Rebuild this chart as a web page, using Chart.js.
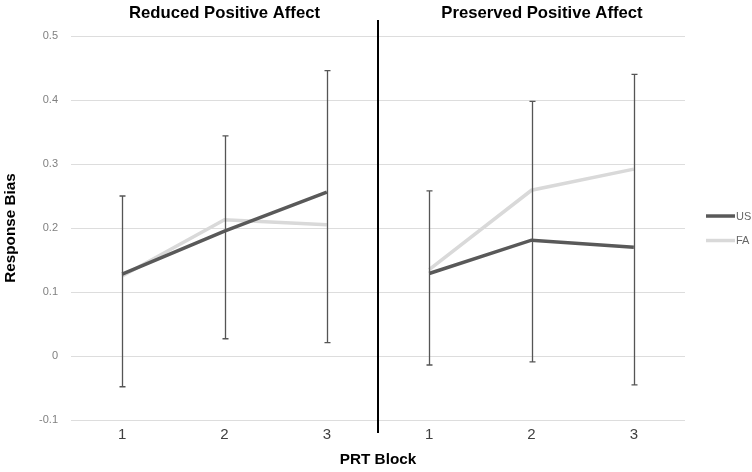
<!DOCTYPE html>
<html>
<head>
<meta charset="utf-8">
<script src="https://cdn.jsdelivr.net/npm/chart.js@4.4.0/dist/chart.umd.min.js"></script>
<style>
html,body{margin:0;padding:0;background:#fff;}
canvas{display:block;}
</style>
</head>
<body>
<canvas id="c" width="752" height="472"></canvas>
<script>
// ---- data ----
const panels = ['Reduced Positive Affect', 'Preserved Positive Affect'];
const blocks = ['1', '2', '3'];
const seriesNames = ['US', 'FA'];

const usReduced = [0.128, 0.195, 0.256];
const faReduced = [0.125, 0.213, 0.205];
const usPreserved = [0.129, 0.181, 0.170];
const faPreserved = [0.135, 0.259, 0.292];

const errHighReduced = [0.250, 0.344, 0.446];
const errLowReduced = [-0.048, 0.027, 0.021];
const errHighPreserved = [0.258, 0.398, 0.440];
const errLowPreserved = [-0.014, -0.009, -0.045];

const yTicks = [-0.1, 0, 0.1, 0.2, 0.3, 0.4, 0.5];

// ---- styles ----
const US_COLOR = '#595959';
const FA_COLOR = '#d9d9d9';
const ERR_COLOR = '#555555';
const FONT = '"Liberation Sans", Arial, sans-serif';

const labels = blocks.concat(blocks);
const pad = a => a.concat([null, null, null]);
const padL = a => [null, null, null].concat(a);

const errHigh = errHighReduced.concat(errHighPreserved);
const errLow = errLowReduced.concat(errLowPreserved);

const lineDs = (label, data, color) => ({
  label, data, borderColor: color, backgroundColor: color,
  borderWidth: 3.5, pointRadius: 0, pointHoverRadius: 0, tension: 0,
  spanGaps: false, fill: false, borderCapStyle: 'butt'
});

const extras = {
  id: 'extras',
  afterDatasetsDraw(chart) {
    const ctx = chart.ctx;
    const xs = chart.scales.x, ys = chart.scales.y;
    const ca = chart.chartArea;
    ctx.save();
    // error bars
    ctx.strokeStyle = ERR_COLOR;
    ctx.lineWidth = 1.3;
    for (let i = 0; i < labels.length; i++) {
      const x = Math.round(xs.getPixelForValue(i)) + 0.5;
      const yh = ys.getPixelForValue(errHigh[i]);
      const yl = ys.getPixelForValue(errLow[i]);
      ctx.beginPath();
      ctx.moveTo(x, yh); ctx.lineTo(x, yl);
      ctx.moveTo(x - 3, yh); ctx.lineTo(x + 3, yh);
      ctx.moveTo(x - 3, yl); ctx.lineTo(x + 3, yl);
      ctx.stroke();
    }
    // divider
    const dx = (xs.getPixelForValue(2) + xs.getPixelForValue(3)) / 2;
    ctx.strokeStyle = '#000';
    ctx.lineWidth = 2;
    ctx.beginPath();
    ctx.moveTo(dx, 20); ctx.lineTo(dx, 433);
    ctx.stroke();
    // panel titles
    const legX = ca.right + 21;
    ctx.fillStyle = '#000';
    ctx.font = 'bold 16.7px ' + FONT;
    ctx.textAlign = 'center';
    ctx.textBaseline = 'middle';
    ctx.fillText(panels[0], xs.getPixelForValue(1), 13);
    ctx.fillText(panels[1], (dx + legX) / 2, 13);
    // legend
    const cy = (ca.top + ca.bottom) / 2;
    const legY = [cy - 12, cy + 12.5];
    const cols = [US_COLOR, FA_COLOR];
    ctx.font = '11px ' + FONT;
    ctx.textAlign = 'left';
    for (let k = 0; k < 2; k++) {
      ctx.strokeStyle = cols[k];
      ctx.lineWidth = 3.5;
      ctx.beginPath();
      ctx.moveTo(legX, legY[k]); ctx.lineTo(legX + 29, legY[k]);
      ctx.stroke();
      ctx.fillStyle = '#666';
      ctx.fillText(seriesNames[k], legX + 30, legY[k] + 0.5);
    }
    ctx.restore();
  }
};

new Chart(document.getElementById('c'), {
  type: 'line',
  data: {
    labels,
    datasets: [
      lineDs(seriesNames[0], pad(usReduced), US_COLOR),
      lineDs(seriesNames[0], padL(usPreserved), US_COLOR),
      lineDs(seriesNames[1], pad(faReduced), FA_COLOR),
      lineDs(seriesNames[1], padL(faPreserved), FA_COLOR)
    ]
  },
  options: {
    responsive: false,
    devicePixelRatio: 1,
    animation: false,
    layout: { padding: { top: 36, right: 67, bottom: 0, left: 0 } },
    plugins: { legend: { display: false }, tooltip: { enabled: false } },
    scales: {
      x: {
        type: 'category',
        offset: true,
        grid: { display: false, drawTicks: false },
        border: { display: false },
        ticks: { color: '#404040', font: { size: 15, family: FONT }, padding: 6, maxRotation: 0, autoSkip: false },
        title: { display: true, text: 'PRT Block', color: '#000', font: { size: 15.3, weight: 'bold', family: FONT }, padding: { top: 0.8, bottom: 2.8 } }
      },
      y: {
        min: -0.1, max: 0.5,
        afterFit(s) { s.width = 71; },
        afterBuildTicks(s) { s.ticks = yTicks.map(v => ({ value: v })); },
        grid: { color: '#dddddd', lineWidth: 1, drawTicks: false },
        border: { display: false },
        ticks: {
          color: '#808080', font: { size: 11, family: FONT }, padding: 13,
          callback: v => String(Number(v.toFixed(1)))
        },
        title: { display: true, text: 'Response Bias', color: '#000', font: { size: 15.3, weight: 'bold', family: FONT }, padding: { top: 2, bottom: 2 } }
      }
    }
  },
  plugins: [extras]
});
</script>
</body>
</html>
